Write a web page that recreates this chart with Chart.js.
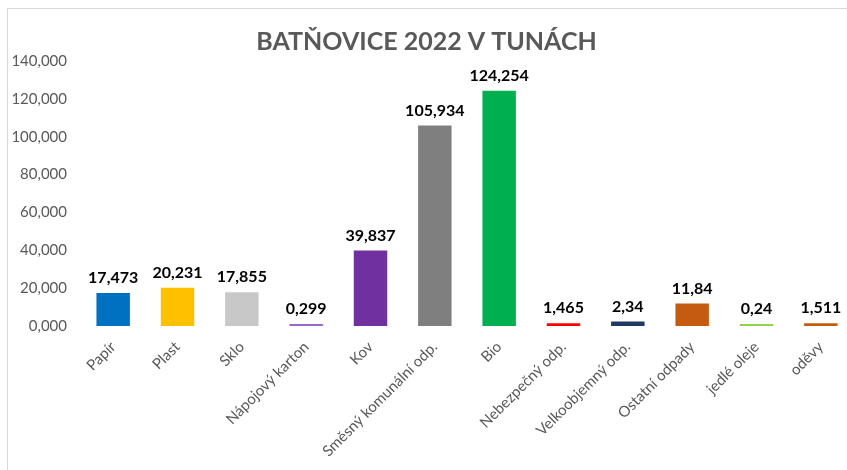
<!DOCTYPE html>
<html>
<head>
<meta charset="utf-8">
<script src="https://cdn.jsdelivr.net/npm/chart.js@4/dist/chart.umd.min.js"></script>
<style>
html,body{margin:0;padding:0;background:#fff;overflow:hidden;width:847px;height:470px;}
#frame{position:absolute;left:7px;top:8px;width:900px;height:480px;border-left:1px solid #d9d9d9;border-top:1px solid #d9d9d9;pointer-events:none;}
#c{position:absolute;left:0;top:0;}
</style>
</head>
<body>
<div id="frame"></div>
<canvas id="c" width="870" height="470"></canvas>
<script>
const categories = ["Papír","Plast","Sklo","Nápojový karton","Kov","Směsný komunální odp.","Bio","Nebezpečný odp.","Velkoobjemný odp.","Ostatní odpady","jedlé oleje","oděvy"];
const values = [17.473, 20.231, 17.855, 0.299, 39.837, 105.934, 124.254, 1.465, 2.34, 11.84, 0.24, 1.511];
const barColors = ["#0070C0","#FFC000","#C8C8C8","#9966CC","#7030A0","#7F7F7F","#00B050","#FF0000","#203864","#C55A11","#92D050","#C55A11"];
const yTicks = [0, 20, 40, 60, 80, 100, 120, 140];
const titleText = "BATŇOVICE 2022 V TUNÁCH";

const fmt = v => String(v).replace('.', ',');

const valueLabels = {
  id: 'valueLabels',
  afterDatasetsDraw(chart) {
    const ctx = chart.ctx;
    const meta = chart.getDatasetMeta(0);
    ctx.save();
    ctx.font = 'bold 16px Lato';
    ctx.fillStyle = '#000000';
    ctx.textAlign = 'center';
    ctx.textBaseline = 'bottom';
    meta.data.forEach((bar, i) => {
      ctx.fillText(fmt(values[i]), bar.x, bar.y - 7);
    });
    ctx.restore();
  }
};

new Chart(document.getElementById('c'), {
  type: 'bar',
  data: {
    labels: categories,
    datasets: [{
      data: values,
      backgroundColor: barColors,
      borderWidth: 0,
      categoryPercentage: 1,
      barPercentage: 0.52,
      minBarLength: 2
    }]
  },
  options: {
    responsive: false,
    animation: false,
    layout: { padding: { left: 0, right: 17, top: 0, bottom: 0 } },
    plugins: {
      legend: { display: false },
      tooltip: { enabled: false },
      title: {
        display: true,
        text: titleText,
        color: '#595959',
        font: { family: 'Lato', size: 25, weight: 'bold', lineHeight: 1.2 },
        padding: { top: 27, bottom: 4 }
      }
    },
    scales: {
      x: {
        grid: { display: false, drawTicks: false },
        border: { display: false },
        ticks: {
          color: '#595959',
          font: { family: 'Lato', size: 15 },
          minRotation: 45,
          maxRotation: 45,
          autoSkip: false,
          padding: 12
        },
        afterFit(scale) { scale.height = 144; }
      },
      y: {
        min: 0,
        max: 140,
        grid: { display: false, drawTicks: false },
        border: { display: false },
        afterBuildTicks(scale) { scale.ticks = yTicks.map(v => ({ value: v })); },
        ticks: {
          color: '#595959',
          font: { family: 'Lato', size: 15 },
          padding: 14,
          callback: v => v.toFixed(3).replace('.', ',')
        },
        afterFit(scale) { scale.width = 81; }
      }
    }
  },
  plugins: [valueLabels]
});
</script>
</body>
</html>
